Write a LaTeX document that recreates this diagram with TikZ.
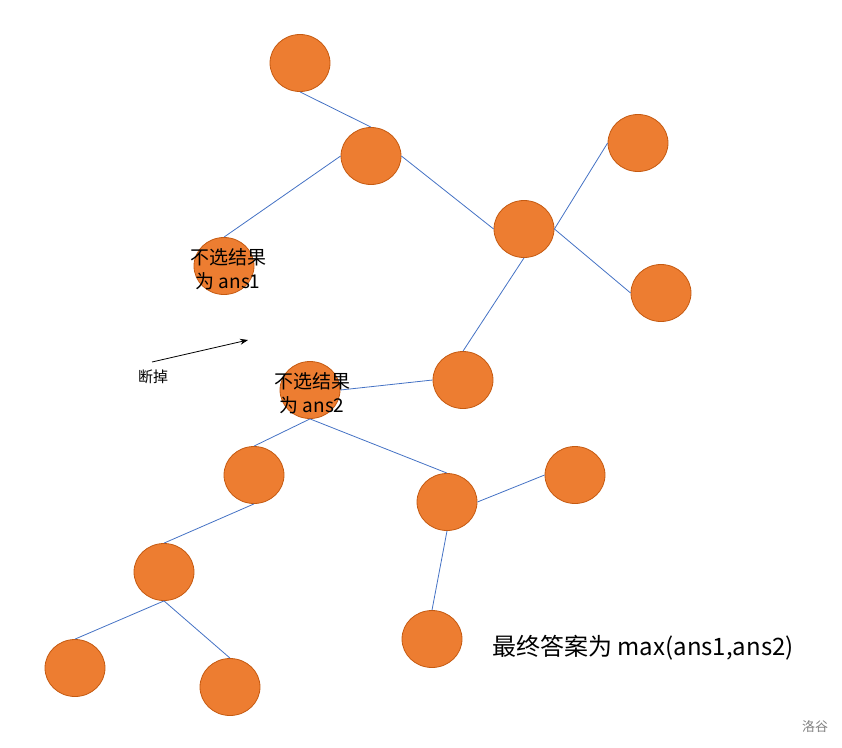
\documentclass[tikz,border=0pt]{standalone}
\usepackage{fontspec}
\setmainfont{Noto Sans CJK SC}
\usetikzlibrary{shapes.geometric,arrows.meta}
\definecolor{nodeorange}{HTML}{ED7D31}
\definecolor{nodeedge}{HTML}{C55A11}
\definecolor{edgeblue}{HTML}{4472C4}
\tikzset{
  tnode/.style={ellipse,fill=nodeorange,draw=nodeedge,line width=0.8pt,minimum width=60pt,minimum height=57pt,inner sep=0pt},
  tedge/.style={draw=edgeblue,line width=0.8pt},
  intext/.style={font=\fontsize{19}{24}\selectfont,align=center,inner sep=0pt},
}
\begin{document}
\begin{tikzpicture}[x=1pt,y=-1pt]
\useasboundingbox (0,0) rectangle (842,747);
\node[tnode] (A) at (300,63) {};
\node[tnode] (B) at (371,156) {};
\node[tnode] (C) at (524,229) {};
\node[tnode] (D) at (638,143) {};
\node[tnode] (E) at (661,293) {};
\node[tnode] (F) at (224,266) {};
\node[tnode] (G) at (463,380) {};
\node[tnode] (H) at (310,390) {};
\node[tnode] (I) at (254,475) {};
\node[tnode] (J) at (447,502) {};
\node[tnode] (K) at (575,475) {};
\node[tnode] (L) at (164,572) {};
\node[tnode] (M) at (432,639) {};
\node[tnode] (N) at (75,668) {};
\node[tnode] (O) at (230,687) {};

\path[tedge] (A.south) -- (B.north);
\path[tedge] (B.west) -- (F.north);
\path[tedge] (B.east) -- (C.west);
\path[tedge] (C.east) -- (D.west);
\path[tedge] (C.east) -- (E.west);
\path[tedge] (C.south) -- (G.north);
\path[tedge] (G.west) -- (H.east);
\path[tedge] (H.south) -- (I.north);
\path[tedge] (H.south) -- (J.north);
\path[tedge] (J.east) -- (K.west);
\path[tedge] (J.south) -- (M.north);
\path[tedge] (I.south) -- (L.north);
\path[tedge] (L.south) -- (N.north);
\path[tedge] (L.south) -- (O.north);

\node[intext] (t1) at (228,269) {不选结果\\为 ans1};
\node[intext] (t2) at (312,393) {不选结果\\为 ans2};

\coordinate (a0) at (152,362);
\coordinate (a1) at (248,340);
\draw[line width=0.8pt,-{Stealth[length=8pt,width=6pt]}] (a0) -- (a1);
\node[font=\fontsize{15}{18}\selectfont,inner sep=0pt] (cut) at (153,377) {断掉};

\node[font=\fontsize{24}{28}\selectfont,inner sep=0pt] (ans) at (643,648) {最终答案为 max(ans1,ans2)};
\node[font=\fontsize{13}{15}\selectfont,text=gray,inner sep=0pt] (wm) at (815,727) {洛谷};
\end{tikzpicture}
\end{document}
